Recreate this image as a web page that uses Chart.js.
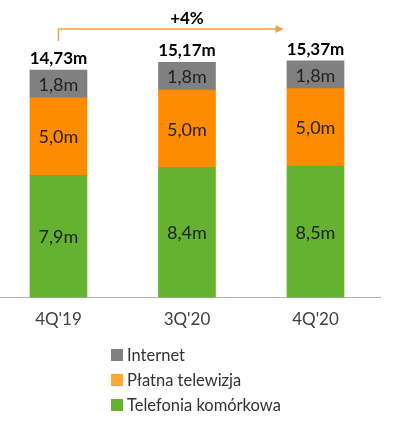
<!DOCTYPE html>
<html>
<head>
<meta charset="utf-8">
<script src="https://cdn.jsdelivr.net/npm/chart.js@4.4.0/dist/chart.umd.min.js"></script>
<style>
  html, body { margin: 0; padding: 0; background: #fff; }
  #wrap { width: 409px; height: 446px; position: relative; }
</style>
</head>
<body>
<div id="wrap"><canvas id="canvas"></canvas></div>
<script>
// data
const categories = ["4Q'19", "3Q'20", "4Q'20"];
const mobile     = [7.9, 8.4, 8.5];
const payTv      = [5.0, 5.0, 5.0];
const internet   = [1.8, 1.8, 1.8];
const totals     = [14.73, 15.17, 15.37];
const growthText = "+4%";

const seriesNames  = ["Telefonia komórkowa", "Płatna telewizja", "Internet"];
const seriesColors = ["#64b22f", "#ff8b00", "#808080"];
const legendColors = ["#64b22f", "#ffa733", "#808080"];

const FONT = "Lato, 'Liberation Sans', sans-serif";

function fmt(v, d) {
	return v.toFixed(d).replace(".", ",") + "m";
}

function toPoints(arr) {
	return arr.map(function (v, i) { return { x: i, y: v }; });
}

// labels inside segments + totals on top
const valueLabels = {
	id: 'valueLabels',
	afterDatasetsDraw: function (chart) {
		var ctx = chart.ctx;
		ctx.save();
		ctx.textAlign = 'center';
		ctx.textBaseline = 'middle';
		ctx.font = "18px " + FONT;
		ctx.fillStyle = "#222";
		chart.data.datasets.forEach(function (ds, di) {
			var meta = chart.getDatasetMeta(di);
			meta.data.forEach(function (bar, i) {
				var mid = (bar.y + bar.base) / 2;
				ctx.fillText(fmt(ds.data[i].y, 1), bar.x, mid + 1);
			});
		});
		var top = chart.getDatasetMeta(chart.data.datasets.length - 1);
		ctx.font = "bold 17px " + FONT;
		ctx.fillStyle = "#000";
		ctx.textBaseline = 'alphabetic';
		top.data.forEach(function (bar, i) {
			ctx.fillText(fmt(totals[i], 2), bar.x, bar.y - 6);
		});

		// growth arrow from first to last bar
		var first = top.data[0], last = top.data[top.data.length - 1];
		var yLine = 29;
		var xEnd = last.x - 34;
		ctx.strokeStyle = "#eda14a";
		ctx.lineWidth = 1.5;
		ctx.beginPath();
		ctx.moveTo(first.x, first.y - 29);
		ctx.lineTo(first.x, yLine);
		ctx.lineTo(xEnd, yLine);
		ctx.stroke();
		ctx.fillStyle = "#eda14a";
		ctx.beginPath();
		ctx.moveTo(xEnd + 2, yLine);
		ctx.lineTo(xEnd - 6, yLine - 4);
		ctx.lineTo(xEnd - 6, yLine + 4);
		ctx.closePath();
		ctx.fill();

		ctx.fillStyle = "#000";
		ctx.font = "bold 17px " + FONT;
		ctx.textBaseline = 'middle';
		ctx.fillText(growthText, (first.x + last.x) / 2, 19);
		ctx.restore();
	}
};

// vertical legend below the axis, top series first
const stackLegend = {
	id: 'stackLegend',
	afterDraw: function (chart) {
		var ctx = chart.ctx;
		ctx.save();
		ctx.font = "16.5px " + FONT;
		ctx.textBaseline = 'middle';
		ctx.textAlign = 'left';
		var n = chart.data.datasets.length;
		for (var k = 0; k < n; k++) {
			var ds = chart.data.datasets[n - 1 - k];
			var y = 355 + k * 25;
			ctx.fillStyle = legendColors[n - 1 - k];
			ctx.fillRect(111, y - 6, 12, 12);
			ctx.fillStyle = "#333";
			ctx.fillText(ds.label, 127, y + 1);
		}
		ctx.restore();
	}
};

(function () {
	var raw = [mobile, payTv, internet];
	var datasets = raw.map(function (arr, i) {
		return {
			label: seriesNames[i],
			data: toPoints(arr),
			backgroundColor: seriesColors[i],
			borderWidth: 0,
			barThickness: 57
		};
	});

	var ctx = document.getElementById('canvas').getContext('2d');
	window.myBar = new Chart(ctx, {
		type: 'bar',
		data: { datasets: datasets },
		options: {
			responsive: true,
			maintainAspectRatio: false,
			animation: false,
			layout: { padding: { top: 19, bottom: 104, left: 0, right: 29 } },
			plugins: { legend: { display: false }, tooltip: { enabled: false } },
			scales: {
				x: {
					type: 'linear',
					stacked: true,
					offset: false,
					min: -0.455,
					max: 2.502,
					afterBuildTicks: function (axis) {
						axis.ticks = categories.map(function (c, i) { return { value: i }; });
					},
					ticks: {
						callback: function (v) { return categories[v]; },
						font: { family: FONT, size: 17 },
						color: "#404040",
						padding: 12,
						maxRotation: 0
					},
					grid: { display: false, drawTicks: false },
					border: { display: true, color: "#b5b5b5", width: 1 }
				},
				y: {
					stacked: true,
					min: 0,
					max: 18,
					display: false
				}
			}
		},
		plugins: [valueLabels, stackLegend]
	});
})();
</script>
</body>
</html>
